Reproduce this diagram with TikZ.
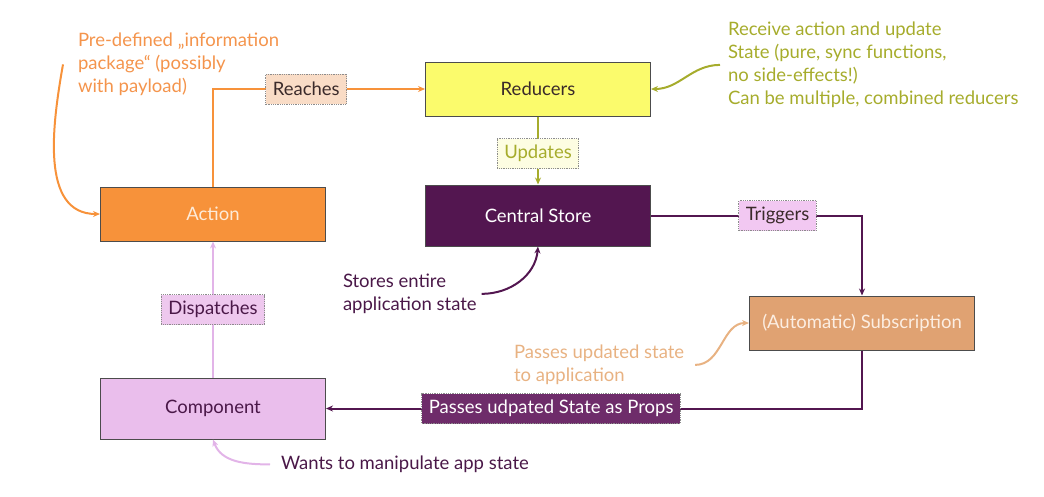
\documentclass[tikz,border=0pt]{standalone}
\usepackage{fontspec}
\setmainfont{Lato}
\usetikzlibrary{arrows.meta, positioning, calc}
\definecolor{actOrange}{HTML}{F7923A}
\definecolor{actText}{HTML}{FDEBD8}
\definecolor{redYellow}{HTML}{FBFB6C}
\definecolor{storePurple}{HTML}{531650}
\definecolor{subTan}{HTML}{E0A272}
\definecolor{subText}{HTML}{FCEEE2}
\definecolor{compPink}{HTML}{EABEEC}
\definecolor{darkText}{HTML}{3A2A2A}
\definecolor{notePurple}{HTML}{4A1848}
\definecolor{noteOlive}{HTML}{A6AC2C}
\definecolor{noteOrange}{HTML}{F4944C}
\definecolor{noteTan}{HTML}{E8B282}
\definecolor{reachFill}{HTML}{F9DCC6}
\definecolor{updFill}{HTML}{FDFDE2}
\definecolor{trigFill}{HTML}{F2C8F2}
\definecolor{dispFill}{HTML}{EEC8EE}
\definecolor{propsFill}{HTML}{6E2C6A}
\definecolor{dispLine}{HTML}{E2B4E8}

\tikzset{
  box/.style={draw=black!70, line width=1pt, minimum width=225pt,
              minimum height=54pt, inner sep=0pt},
  tag/.style={draw=black!45, densely dotted, line width=0.8pt,
              minimum height=30pt, inner xsep=7pt, inner ysep=0pt},
  note/.style={align=left, anchor=north west, inner sep=0pt},
  flow/.style={->, line width=2pt},
}

\begin{document}
\begin{tikzpicture}[x=1pt, y=-1pt, >={Stealth[length=7pt,width=6pt]},
    line width=2pt, font=\fontsize{18.5}{23}\selectfont]
  \useasboundingbox (0,0) rectangle (1044,496);

  % main boxes
  \node[box, fill=redYellow, text=darkText] (reducers) at (538,89) {Reducers};
  \node[box, fill=storePurple, text=white, minimum height=61pt,
        below=68pt of reducers] (store) {Central Store};
  \node[box, fill=actOrange, text=actText] (action) at (213,214) {Action};
  \node[box, fill=compPink, text=notePurple, minimum height=61pt,
        below=136pt of action] (comp) {Component};
  \node[box, fill=subTan, text=subText] (sub) at (862,323) {(Automatic) Subscription};

  % flow
  \draw[flow, actOrange] (action.north) |- coordinate[pos=0.72] (reachAt) (reducers.west);
  \draw[flow, noteOlive] (reducers) -- coordinate (updAt) (store);
  \draw[flow, storePurple] (store.east) -| coordinate[pos=0.3] (trigAt) (sub.north);
  \draw[flow, storePurple] (sub.south) |- coordinate[pos=0.79] (propsAt) (comp.east);
  \draw[flow, dispLine] (comp) -- coordinate (dispAt) (action);

  \node[tag, fill=reachFill, text=darkText] (reaches) at (reachAt) {Reaches};
  \node[tag, fill=updFill, text=noteOlive] (updates) at ([yshift=-3pt]updAt) {Updates};
  \node[tag, fill=trigFill, text=darkText] (triggers) at (trigAt) {Triggers};
  \node[tag, fill=propsFill, text=white] (props) at (propsAt) {Passes udpated State as Props};
  \node[tag, fill=dispFill, text=notePurple] (dispatches) at (dispAt) {Dispatches};

  % notes
  \node[note, text=noteOrange] (predef) at (77,32)
    {Pre-defined „information\\package“ (possibly\\with payload)};
  \node[note, text=noteOlive] (recv) at (727,21)
    {Receive action and update\\State (pure, sync functions,\\no side-effects!)\\Can be multiple, combined reducers};
  \node[note, text=notePurple] (stores) at (342,273)
    {Stores entire\\application state};
  \node[note, text=noteTan] (passes) at (513,344)
    {Passes updated state\\to application};
  \node[note, text=notePurple] (wants) at (280,455)
    {Wants to manipulate app state};

  \draw[flow, actOrange] ([xshift=-14pt]predef.west) to[out=-100, in=180] (action.west);
  \draw[flow, noteOlive] ([xshift=-7pt]recv.west) to[out=180, in=0] (reducers.east);
  \draw[flow, storePurple] ([xshift=4pt]stores.east) to[out=0, in=-95] (store.south);
  \draw[flow, noteTan] ([xshift=10pt]passes.east) to[out=0, in=180] (sub.west);
  \draw[flow, dispLine] ([xshift=-10pt]wants.west) to[out=180, in=-70] (comp.south);
\end{tikzpicture}
\end{document}
